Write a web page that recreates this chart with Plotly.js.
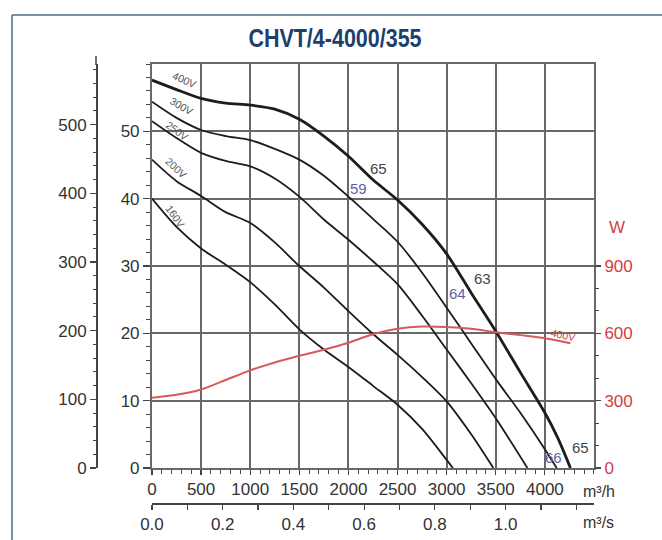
<!DOCTYPE html>
<html>
<head>
<meta charset="utf-8">
<script src="https://cdn.plot.ly/plotly-3.0.1.min.js"></script>
<style>html,body{margin:0;padding:0;background:#fff;}#chart{width:662px;height:540px;}</style>
</head>
<body>
<div id="chart"></div>
<script>
// ---- data (flow in m3/h, pressure in mm w.c., power in W) ----
const q400 = [0, 250, 500, 750, 1000, 1250, 1500, 1750, 2000, 2250, 2500, 2750, 3000, 3250, 3500, 3750, 4000, 4130, 4260];
const p400 = [57.6, 56.2, 54.9, 54.2, 53.9, 53.3, 51.8, 49.3, 46.3, 42.8, 39.8, 36.2, 31.8, 26.0, 20.3, 14.2, 8.2, 4.5, 0];
const q300 = [0, 250, 500, 750, 1000, 1250, 1500, 1750, 2000, 2250, 2500, 2750, 3000, 3250, 3500, 3750, 4000, 4120];
const p300 = [54.4, 52.0, 50.2, 49.3, 48.7, 47.4, 45.8, 43.4, 40.3, 37.0, 33.6, 29.0, 23.8, 18.5, 13.2, 8.2, 2.8, 0];
const q250 = [0, 250, 500, 750, 1000, 1250, 1500, 1750, 2000, 2250, 2500, 2750, 3000, 3250, 3500, 3822];
const p250 = [51.5, 49.0, 46.8, 45.6, 44.8, 43.0, 40.3, 36.9, 33.9, 30.7, 27.3, 22.6, 17.6, 12.6, 7.4, 0];
const q200 = [0, 250, 500, 750, 1000, 1250, 1500, 1750, 2000, 2250, 2500, 2750, 3000, 3250, 3475];
const p200 = [45.8, 42.6, 40.4, 38.0, 36.4, 33.5, 30.0, 26.8, 23.3, 19.9, 16.8, 13.5, 9.9, 5.0, 0];
const q160 = [0, 250, 500, 750, 1000, 1250, 1500, 1750, 2000, 2250, 2500, 2750, 3000, 3063];
const p160 = [40.0, 35.8, 32.6, 30.2, 27.6, 24.3, 20.6, 17.6, 15.0, 12.2, 9.4, 5.8, 1.2, 0];
const qPow = [0, 250, 500, 750, 1000, 1250, 1500, 1750, 2000, 2250, 2500, 2750, 3000, 3250, 3500, 3750, 4000, 4260];
const wPow = [313, 326, 350, 392, 435, 470, 500, 527, 558, 596, 620, 630, 628, 620, 605, 592, 578, 556];

const flowTicks = [0, 500, 1000, 1500, 2000, 2500, 3000, 3500, 4000];
const mmTicks = [0, 10, 20, 30, 40, 50];
const paTicks = [0, 100, 200, 300, 400, 500];
const wTicks = [0, 300, 600, 900];
const wMinor = [100, 200, 400, 500, 700, 800];
const m3sTicks = [0, 0.2, 0.4, 0.6, 0.8, 1.0];
const m3sLabels = ['0.0', '0.2', '0.4', '0.6', '0.8', '1.0'];

const curveLabels = [
  {t: '400V', x: 334, y: 57.6, a: 24},
  {t: '300V', x: 300, y: 53.7, a: 30},
  {t: '250V', x: 263, y: 50.1, a: 36},
  {t: '200V', x: 250, y: 44.6, a: 43},
  {t: '160V', x: 236, y: 37.4, a: 55}
];
const numLabels = [
  {t: '65', x: 2307, y: 44.5, c: '#444'},
  {t: '59', x: 2104, y: 41.5, c: '#5d5fa8'},
  {t: '63', x: 3361, y: 28.2, c: '#444'},
  {t: '64', x: 3107, y: 25.9, c: '#5d5fa8'},
  {t: '66', x: 4092, y: 1.5, c: '#5d5fa8'},
  {t: '65', x: 4364, y: 3.1, c: '#444'}
];

const RED = '#d2403f';
const GRID = '#686868';
const AX = '#444';

function curve(q, p, w) {
  return {x: q, y: p, xaxis: 'x', yaxis: 'y', mode: 'lines', line: {color: '#1c1c1c', width: w, shape: 'spline', smoothing: 0.8}, hoverinfo: 'skip'};
}

const traces = [
  curve(q160, p160, 1.8),
  curve(q200, p200, 1.8),
  curve(q250, p250, 1.8),
  curve(q300, p300, 1.8),
  curve(q400, p400, 2.8),
  {x: qPow, y: wPow, xaxis: 'x', yaxis: 'y3', mode: 'lines', line: {color: '#d65a5a', width: 2, shape: 'spline', smoothing: 0.8}, hoverinfo: 'skip'},
  {x: [0], y: [0], xaxis: 'x', yaxis: 'y2', mode: 'markers', marker: {opacity: 0}, hoverinfo: 'skip'},
  {x: [0], y: [0], xaxis: 'x2', yaxis: 'y', mode: 'markers', marker: {opacity: 0}, hoverinfo: 'skip'}
];

const annotations = [];
curveLabels.forEach(l => annotations.push({text: l.t, x: l.x, y: l.y, xref: 'x', yref: 'y', showarrow: false, textangle: l.a, font: {size: 10.5, color: '#555'}}));
numLabels.forEach(l => annotations.push({text: l.t, x: l.x, y: l.y, xref: 'x', yref: 'y', showarrow: false, font: {size: 15, color: l.c}}));
annotations.push({text: '400V', x: 4190, y: 19.8, xref: 'x', yref: 'y', showarrow: false, textangle: 12, font: {size: 10.5, color: RED}});
annotations.push({text: 'm³/h', x: 1.01, y: 0.029, xref: 'paper', yref: 'paper', xanchor: 'center', yanchor: 'middle', showarrow: false, font: {size: 16, color: '#333'}});
annotations.push({text: 'm³/s', x: 1.01, y: -0.040, xref: 'paper', yref: 'paper', xanchor: 'center', yanchor: 'middle', showarrow: false, font: {size: 16, color: '#333'}});
annotations.push({text: 'W', x: 1.046, y: 0.617, xref: 'paper', yref: 'paper', xanchor: 'center', yanchor: 'middle', showarrow: false, font: {size: 17, color: RED}});

const layout = {
  width: 662, height: 540,
  margin: {l: 96, r: 68, t: 56, b: 35},
  paper_bgcolor: '#fff', plot_bgcolor: 'rgba(0,0,0,0)',
  showlegend: false,
  font: {family: 'Liberation Sans, Arial, sans-serif', size: 17, color: '#333'},
  title: {text: '<b>CHVT/4-4000/355</b>', xref: 'container', yref: 'container', x: 0.506, y: 0.93, xanchor: 'center', yanchor: 'middle',
          font: {family: 'Liberation Sans, Arial, sans-serif', size: 25, color: '#1d3f6e'}},
  xaxis: {domain: [0.1124, 1], range: [0, 4500], tickmode: 'array', tickvals: flowTicks, ticktext: flowTicks.map(String),
          showgrid: true, gridcolor: GRID, gridwidth: 2, zeroline: false,
          showline: true, mirror: true, linecolor: GRID, linewidth: 2,
          ticks: 'outside', ticklen: 5, tickcolor: AX, tickwidth: 1.2,
          minor: {dtick: 100, tick0: 0, ticks: 'outside', ticklen: 4, tickcolor: AX, tickwidth: 1, showgrid: false},
          tickfont: {size: 17, color: '#333'}},
  xaxis2: {overlaying: 'x', anchor: 'free', position: 0.004, side: 'bottom', range: [0, 1.25],
           tickmode: 'array', tickvals: m3sTicks, ticktext: m3sLabels, showgrid: false, zeroline: false,
           showline: true, linecolor: AX, linewidth: 1.5, ticks: 'outside', ticklen: 5, tickcolor: AX, tickwidth: 1.2,
           minor: {dtick: 0.1, tick0: 0, ticks: 'outside', ticklen: 5, tickcolor: AX, tickwidth: 1.2, showgrid: false},
           tickfont: {size: 17, color: '#333'}},
  yaxis: {domain: [0.08241, 0.98218], range: [0, 60], tickmode: 'array', tickvals: mmTicks, ticktext: mmTicks.map(String),
          showgrid: true, gridcolor: GRID, gridwidth: 2, zeroline: false,
          showline: true, mirror: true, linecolor: GRID, linewidth: 2,
          ticks: 'outside', ticklen: 7, tickcolor: AX, tickwidth: 1.2,
          minor: {dtick: 2, tick0: 0, ticks: 'outside', ticklen: 4, tickcolor: AX, tickwidth: 1, showgrid: false},
          tickfont: {size: 17, color: '#333'}},
  yaxis2: {overlaying: 'y', anchor: 'free', position: 0, side: 'left', range: [0, 588.4],
           tickmode: 'array', tickvals: paTicks, ticktext: paTicks.map(String), showgrid: false, zeroline: false,
           showline: true, linecolor: AX, linewidth: 1.5, ticks: 'outside', ticklen: 6, tickcolor: AX, tickwidth: 1.2,
           minor: {dtick: 20, tick0: 0, ticks: 'outside', ticklen: 3.5, tickcolor: AX, tickwidth: 1, showgrid: false},
           tickfont: {size: 17, color: '#333'}},
  yaxis3: {overlaying: 'y', anchor: 'x', side: 'right', range: [0, 1800],
           tickmode: 'array', tickvals: wTicks, ticktext: wTicks.map(String), showgrid: false, zeroline: false,
           showline: false, ticks: 'outside', ticklen: 6, tickcolor: AX, tickwidth: 1.2,
           minor: {tickmode: 'array', tickvals: wMinor, ticks: 'outside', ticklen: 3.5, tickcolor: AX, tickwidth: 1, showgrid: false},
           tickfont: {size: 17, color: RED}},
  annotations: annotations,
  shapes: [
    {type: 'line', xref: 'paper', yref: 'paper', x0: 0, x1: 0, y0: 0.98, y1: 1.0, line: {color: AX, width: 1.5}},
    {type: 'line', xref: 'paper', yref: 'paper', x0: -0.1687, x1: -0.1687, y0: -0.1, y1: 1.0913, line: {color: '#4c6d94', width: 1.5}},
    {type: 'line', xref: 'paper', yref: 'paper', x0: -0.1687, x1: 1.2, y0: 1.0913, y1: 1.0913, line: {color: '#4c6d94', width: 1.5}}
  ]
};

Plotly.newPlot('chart', traces, layout, {staticPlot: true, displayModeBar: false}).then(function () {
  // condense the title horizontally, like the condensed typeface of the original
  const t = document.querySelector('.gtitle');
  if (t) {
    const b = t.getBBox();
    const cx = b.x + b.width / 2;
    t.setAttribute('transform', 'translate(' + cx + ',0) scale(0.86,1) translate(' + (-cx) + ',0)');
  }
});
</script>
</body>
</html>
